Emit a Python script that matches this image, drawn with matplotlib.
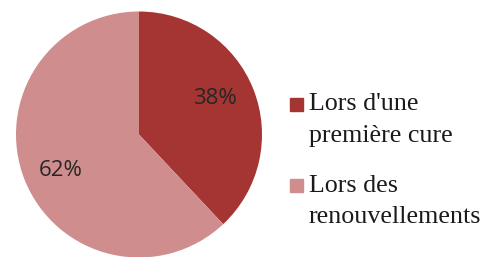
import matplotlib.pyplot as plt
from matplotlib.patches import Rectangle

# parts of the pie
labels = ["Lors d'une\npremière cure", "Lors des\nrenouvellements"]
values = [38, 62]
colors = ['#A43532', '#D08D8D']

fig = plt.figure(figsize=(4.94, 2.57), dpi=100)

# pie axes: centre ~ (139, 135) px, radius ~ 123 px
ax = fig.add_axes([16 / 494, -0.5 / 257, 246 / 494, 246 / 257])
wedges, texts, autotexts = ax.pie(values, colors=colors, startangle=90,
                                  counterclock=False, autopct='%1.0f%%',
                                  pctdistance=0.69,
                                  wedgeprops=dict(linewidth=0))
# excel puts the labels a bit off the wedge middle
label_pos = [(0.62, 0.295), (-0.635, -0.295)]
for t, p in zip(autotexts, label_pos):
    t.set_position(p)
    t.set_fontfamily('Open Sans')
    t.set_fontsize(16)
    t.set_color('#262626')
ax.set_xlim(-1, 1)
ax.set_ylim(-1, 1)
ax.set_aspect('equal')
ax.axis('off')

# legend drawn by hand so the square sits next to the first line
legend_y = [104.5 / 257, 185.5 / 257]
for lab, col, y in zip(labels, colors, legend_y):
    fy = 1 - y
    fig.patches.append(Rectangle((290 / 494, fy - 6.5 / 257), 13 / 494, 13 / 257,
                                 transform=fig.transFigure, color=col))
    fig.text(309 / 494, fy + 11 / 257, lab, fontfamily='Liberation Serif',
             fontsize=18.7, color='#1a1a1a', va='top', ha='left',
             linespacing=1.58)

fig.savefig('out.png', dpi=100)
